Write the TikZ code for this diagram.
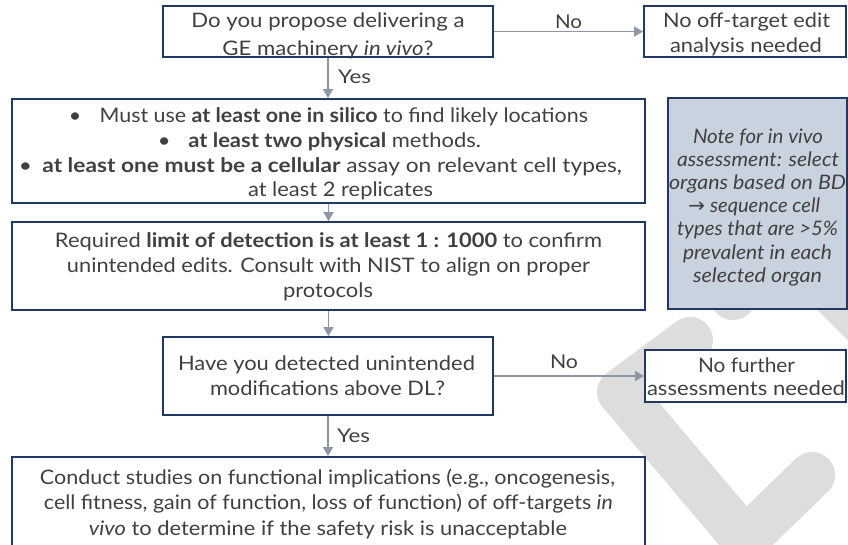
\documentclass[tikz,border=0pt]{standalone}
\usepackage{fontspec}
\setmainfont{Lato}
\newfontfamily\symfont{DejaVu Sans}
\usepackage{graphicx}
\usetikzlibrary{arrows.meta}
\definecolor{navy}{RGB}{31,56,100}
\definecolor{arrowgray}{RGB}{142,152,164}
\definecolor{notefill}{RGB}{201,211,223}
\definecolor{txtc}{RGB}{64,64,64}
\definecolor{wmark}{RGB}{221,221,221}
\newcommand\fitw[2]{\resizebox{#1pt}{\height}{#2}}
\begin{document}
\begin{tikzpicture}[x=1pt,y=-1pt,
  box/.style={draw=navy, line width=1.8pt, fill=white, inner sep=0pt},
  notebox/.style={box, fill=notefill},
  conn/.style={draw=arrowgray, line width=1.4pt, -{Triangle[length=9pt,width=10pt]}},
  txt/.style={inner sep=0pt, anchor=base, text=txtc, font=\fontsize{20pt}{24pt}\selectfont},
  lbl/.style={txt, font=\fontsize{19pt}{22pt}\selectfont},
  wm/.style={draw=wmark, line width=46pt, line cap=round, line join=round}]
\path[use as bounding box, clip] (0,0) rectangle (848,544);
\fill[white] (0,0) rectangle (848,544);
% watermark
\draw[wm] (690,340) -- (620,392) -- (745,540) -- (812,475);
\draw[wm] (700,250) -- (733,297) -- (770,250);
\draw[wm] (800,260) -- (870,330);
% boxes
\node[box, minimum width=330pt, minimum height=51pt] (b1) at (328,31.5) {};
\node[box, minimum width=202pt, minimum height=51pt] (b2) at (745,31.5) {};
\node[box, minimum width=633pt, minimum height=104pt] (b3) at (328.5,151) {};
\node[box, minimum width=633pt, minimum height=88pt] (b4) at (328.5,266) {};
\node[notebox, minimum width=179pt, minimum height=211pt] (nt) at (757.5,203.5) {};
\node[box, minimum width=330pt, minimum height=78pt] (b5) at (328,376) {};
\node[box, minimum width=201pt, minimum height=52pt] (b6) at (745.5,376) {};
\node[box, minimum width=633pt, minimum height=113pt] (b7) at (328.5,513.5) {};
% connectors
\draw[conn] (b1.east) -- (b2.west);
\draw[conn] (b1.south) -- (b1.south |- b3.north);
\draw[conn] (b3.south) -- (b4.north);
\draw[conn] (b4.south) -- (b4.south |- b5.north);
\draw[conn] (b5.east) -- (b5.east -| b6.west);
\draw[conn] (b5.south) -- (b5.south |- b7.north);
% connector labels
\node[lbl] (no1) at (568.5,28) {\fitw{27}{No}};
\node[lbl] (yes1) at (354.5,83) {\fitw{33}{Yes}};
\node[lbl] (no2) at (564,368) {\fitw{28}{No}};
\node[lbl] (yes2) at (353.5,442) {\fitw{33}{Yes}};
% box 1
\node[txt] (b1a) at (328,27) {\fitw{273}{Do you propose delivering a}};
\node[txt] (b1b) at (328,55) {\fitw{211}{GE machinery \textit{in vivo}?}};
% box 2
\node[txt] (b2a) at (746.5,27) {\fitw{167}{No off-target edit}};
\node[txt] (b2b) at (746,52) {\fitw{152}{analysis needed}};
% box 3
\node[txt] (b3a) at (328.5,122) {\fitw{519}{\textbullet\hspace{17pt}Must use \textbf{at least one in silico} to find likely locations}};
\node[txt] (b3b) at (319.5,147) {\fitw{323}{\textbullet\hspace{16pt}\textbf{at least two physical} methods.}};
\node[txt] (b3c) at (320.5,172) {\fitw{603}{\textbullet\hspace{9pt}\textbf{at least one must be a cellular} assay on relevant cell types,}};
\node[txt] (b3d) at (340.5,196) {\fitw{185}{at least 2 replicates}};
% box 4
\node[txt] (b4a) at (328.5,247) {\fitw{547}{Required \textbf{limit of detection is at least 1 : 1000} to confirm}};
\node[txt] (b4b) at (328.5,272) {\fitw{523}{unintended edits. Consult with NIST to align on proper}};
\node[txt] (b4c) at (328,297) {\fitw{90}{protocols}};
% note
\node[txt] (nta) at (758,143.5) {\fitw{130}{\itshape Note for in vivo}};
\node[txt] (ntb) at (758,166.6) {\fitw{162}{\itshape assessment: select}};
\node[txt] (ntc) at (757.5,189.7) {\fitw{177}{\itshape organs based on BD}};
\node[txt] (ntd) at (754,212.8) {\fitw{132}{{\symfont →} \itshape sequence cell}};
\node[txt] (nte) at (757.5,235.9) {\fitw{161}{\itshape types that are >5\%}};
\node[txt] (ntf) at (757.5,259) {\fitw{149}{\itshape prevalent in each}};
\node[txt] (ntg) at (757.5,282.1) {\fitw{129}{\itshape selected organ}};
% box 5
\node[txt] (b5a) at (326.5,370) {\fitw{297}{Have you detected unintended}};
\node[txt] (b5b) at (327.5,395) {\fitw{235}{modifications above DL?}};
% box 6
\node[txt] (b6a) at (746.5,372) {\fitw{97}{No further}};
\node[txt] (b6b) at (746,395) {\fitw{198}{assessments needed}};
% box 7
\node[txt] (b7a) at (327.5,484) {\fitw{575}{Conduct studies on functional implications (e.g., oncogenesis,}};
\node[txt] (b7b) at (328.5,509) {\fitw{569}{cell fitness, gain of function, loss of function) of off-targets \textit{in}}};
\node[txt] (b7c) at (328,535) {\fitw{478}{\textit{vivo} to determine if the safety risk is unacceptable}};
\end{tikzpicture}
\end{document}
